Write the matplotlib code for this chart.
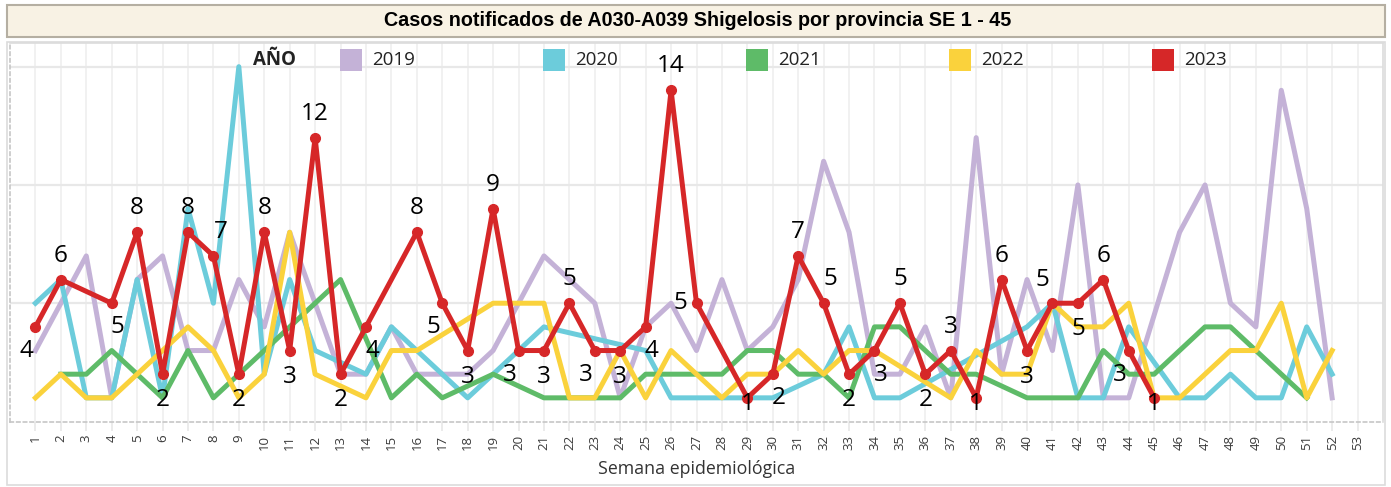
import matplotlib
matplotlib.use("Agg")
import matplotlib.pyplot as plt
from matplotlib.patches import Rectangle

# ---------------- data ----------------
weeks = list(range(1, 54))
week_labels = [str(w) for w in weeks]

years = ["2019", "2020", "2021", "2022", "2023"]

cases_2019 = [3, 5, 7, 1, 6, 7, 3, 3, 6, 4, 8, 5, 2, 2, 4, 2, 2, 2, 3, 5,
              7, 6, 5, 1, 4, 5, 3, 6, 3, 4, 6, 11, 8, 2, 2, 4, 1, 12, 2, 6,
              3, 10, 1, 1, None, 8, 10, 5, 4, 14, 9, 1]
cases_2020 = [5, 6, 1, 1, 6, 1, 9, 5, 15, 2, 6, 3, None, 2, 4, 3, 2, 1, 2, 3,
              4, None, None, None, 3, 1, 1, 1, 1, 1, None, 2, 4, 1, 1, None, None, None, None, 4,
              5, 1, 1, 4, None, 1, 1, 2, 1, 1, 4, 2]
cases_2021 = [None, 2, 2, 3, 2, 1, 3, 1, 2, 3, 4, 5, 6, None, 1, 2, 1, None, 2, None,
              1, 1, 1, 1, 2, 2, 2, 2, 3, 3, 2, 2, 1, 4, 4, 3, 2, 2, None, 1,
              1, 1, 3, 2, 2, 3, 4, 4, 3, 2, 1]
cases_2022 = [1, 2, 1, 1, 2, 3, 4, 3, 1, 2, 8, 2, None, 1, 3, 3, None, None, 5, 5,
              5, 1, 1, 3, 1, 3, 2, 1, 2, 2, 3, 2, 3, 3, None, None, 1, 3, 2, 2,
              5, 4, 4, 5, 1, 1, 2, 3, 3, 5, 1, 3]
cases_2023 = [4, 6, None, 5, 8, 2, 8, 7, 2, 8, 3, 12, 2, 4, None, 8, 5, 3, 9, 3,
              3, 5, 3, 3, 4, 14, 5, None, 1, 2, 7, 5, 2, 3, 5, 2, 3, 1, 6, 3,
              5, 5, 6, 3, 1]

# where each 2023 value label sits relative to its point
label_place_2023 = ["bl", "a", None, "br", "a", "b", "a", "ar", "b", "a",
                    "b", "a", "b", "br", None, "a", "bl", "b", "a", "bl",
                    "b", "a", "bl", "b", "br", "a", "l", None, "f", "br",
                    "a", "ar", "b", "br", "a", "b", "a", "f", "a", "b",
                    "al", "b", "a", "bl", "f"]

colors = {"2019": "#C4B2D7", "2020": "#6CCCDB", "2021": "#5EBB68",
          "2022": "#FAD23C", "2023": "#D62728"}
series = {"2019": cases_2019, "2020": cases_2020, "2021": cases_2021,
          "2022": cases_2022, "2023": cases_2023}

offsets = {"a": (0, 24), "b": (0, -26), "bl": (-9, -24), "br": (6, -24),
           "ar": (7, 24), "al": (-10, 23), "l": (-16, 0), "f": (0, -6)}

# ---------------- figure ----------------
W, H = 1391, 487
fig = plt.figure(figsize=(W / 100, H / 100), dpi=100)


def fx(px):
    return px / W


def fy(py):
    return 1 - py / H


# outer panel and title bar
fig.add_artist(Rectangle((fx(7), fy(485)), fx(1378), (485 - 42) / H,
                         transform=fig.transFigure, facecolor="white",
                         edgecolor="#DCDCDC", lw=1.2, zorder=0))
fig.add_artist(Rectangle((fx(7), fy(37)), fx(1378), 32 / H,
                         transform=fig.transFigure, facecolor="#F8F2E4",
                         edgecolor="#B5AFA2", lw=1.5, zorder=1))
fig.text(fx(698), fy(21), "Casos notificados de A030-A039 Shigelosis por provincia SE 1 - 45",
         ha="center", va="center", fontsize=14.2, fontweight="bold",
         family="Liberation Sans", color="black")

ax = fig.add_axes([fx(10), fy(421.5), fx(1373), (421.5 - 43) / H])
ax.set_xlim(0, 54)
ax.set_ylim(0, 16)

for yr in years:
    vals = series[yr]
    xs = [w for w, v in zip(weeks, vals) if v is not None]
    ys = [v for v in vals if v is not None]
    if yr == "2023":
        ax.plot(xs, ys, color=colors[yr], lw=3.6, marker="o", markersize=7,
                solid_joinstyle="round", zorder=5)
    else:
        ax.plot(xs, ys, color=colors[yr], lw=3.6, solid_joinstyle="round", zorder=3)

for w, v, place in zip(weeks, cases_2023, label_place_2023):
    if v is None:
        continue
    dx, dy = offsets[place]
    ax.annotate(str(v), (w, v), xytext=(dx, dy), textcoords="offset pixels",
                ha="center", va="center", fontsize=17.5, family="Open Sans",
                color="black", zorder=6, annotation_clip=False)

# axes styling
ax.set_xticks(weeks)
ax.set_xticklabels(week_labels, rotation=90, fontsize=9.5, color="#3A3A3A",
                   family="Open Sans")
ax.set_yticks([5, 10, 15])
ax.set_yticklabels([])
ax.tick_params(axis="x", length=6.5, width=1.1, color="#E6E6E6", pad=3)
ax.tick_params(axis="y", length=0)
ax.grid(axis="x", color="#EEEEEE", lw=1.1, zorder=0)
ax.grid(axis="y", color="#E8E8E8", lw=1.6, zorder=0)
ax.set_axisbelow(True)

for side in ["left", "bottom"]:
    ax.spines[side].set_color("#C6C6C6")
    ax.spines[side].set_linestyle((0, (2, 2)))
    ax.spines[side].set_linewidth(1.2)
for side in ["top", "right"]:
    ax.spines[side].set_color("#DCDCDC")
    ax.spines[side].set_linewidth(1.2)

fig.text(fx(697), fy(469), "Semana epidemiológica", ha="center", va="center",
         fontsize=12.8, family="Open Sans", color="#333333")

# legend drawn by hand across the top
fig.text(fx(253), fy(60), "AÑO", ha="left", va="center", fontsize=13.5,
         fontweight="bold", family="Open Sans", color="#222222", zorder=7)
legend_left = [340, 543, 746, 949, 1152]
for yr, left in zip(years, legend_left):
    fig.add_artist(Rectangle((fx(left), fy(71)), fx(22), 22 / H,
                             transform=fig.transFigure, facecolor=colors[yr],
                             edgecolor="none", zorder=7))
    fig.text(fx(left + 32), fy(60), yr, ha="left", va="center", fontsize=13.5,
             family="Open Sans", color="#222222", zorder=7)

fig.savefig("out.png", dpi=100)
